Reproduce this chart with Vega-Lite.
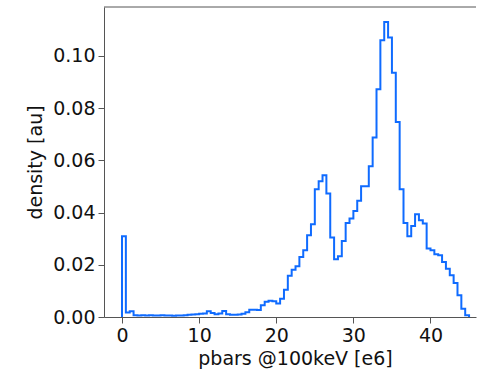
{
  "$schema": "https://vega.github.io/schema/vega-lite/v6.json",
  "width": 372,
  "height": 310,
  "autosize": "none",
  "padding": {"left": 104, "top": 7, "right": 1, "bottom": 54},
  "background": "white",
  "config": {
    "view": {"stroke": null},
    "font": "DejaVu Sans",
    "axis": {
      "grid": false,
      "domainColor": "#555555",
      "tickColor": "#555555",
      "tickSize": 6,
      "labelColor": "#111111",
      "titleColor": "#111111",
      "labelFont": "DejaVu Sans",
      "titleFont": "DejaVu Sans",
      "labelFontSize": 19,
      "titleFontSize": 19,
      "titleFontWeight": "normal",
      "labelPadding": 3
    }
  },
  "data": {
    "values": [
      {"i": 0, "x": 0, "density": 0},
      {"i": 1, "x": 0.0, "density": 0.0309},
      {"i": 2, "x": 0.5, "density": 0.0017},
      {"i": 3, "x": 1.0, "density": 0.0022},
      {"i": 4, "x": 1.5, "density": 0.0007},
      {"i": 5, "x": 2.0, "density": 0.0006},
      {"i": 6, "x": 2.5, "density": 0.0007},
      {"i": 7, "x": 3.0, "density": 0.0006},
      {"i": 8, "x": 3.5, "density": 0.0007},
      {"i": 9, "x": 4.0, "density": 0.0006},
      {"i": 10, "x": 4.5, "density": 0.0006},
      {"i": 11, "x": 5.0, "density": 0.0007},
      {"i": 12, "x": 5.5, "density": 0.0006},
      {"i": 13, "x": 6.0, "density": 0.0006},
      {"i": 14, "x": 6.5, "density": 0.0005},
      {"i": 15, "x": 7.0, "density": 0.0006},
      {"i": 16, "x": 7.5, "density": 0.0006},
      {"i": 17, "x": 8.0, "density": 0.0007},
      {"i": 18, "x": 8.5, "density": 0.0009},
      {"i": 19, "x": 9.0, "density": 0.0010},
      {"i": 20, "x": 9.5, "density": 0.0011},
      {"i": 21, "x": 10.0, "density": 0.0012},
      {"i": 22, "x": 10.5, "density": 0.0013},
      {"i": 23, "x": 11.0, "density": 0.0022},
      {"i": 24, "x": 11.5, "density": 0.0015},
      {"i": 25, "x": 12.0, "density": 0.0011},
      {"i": 26, "x": 12.5, "density": 0.0013},
      {"i": 27, "x": 13.0, "density": 0.0023},
      {"i": 28, "x": 13.5, "density": 0.0011},
      {"i": 29, "x": 14.0, "density": 0.0009},
      {"i": 30, "x": 14.5, "density": 0.0009},
      {"i": 31, "x": 15.0, "density": 0.0010},
      {"i": 32, "x": 15.5, "density": 0.0012},
      {"i": 33, "x": 16.0, "density": 0.0018},
      {"i": 34, "x": 16.5, "density": 0.0028},
      {"i": 35, "x": 17.0, "density": 0.0028},
      {"i": 36, "x": 17.5, "density": 0.0027},
      {"i": 37, "x": 18.0, "density": 0.0045},
      {"i": 38, "x": 18.5, "density": 0.0058},
      {"i": 39, "x": 19.0, "density": 0.0062},
      {"i": 40, "x": 19.5, "density": 0.0060},
      {"i": 41, "x": 20.0, "density": 0.0052},
      {"i": 42, "x": 20.5, "density": 0.0070},
      {"i": 43, "x": 21.0, "density": 0.0104},
      {"i": 44, "x": 21.5, "density": 0.0158},
      {"i": 45, "x": 22.0, "density": 0.0181},
      {"i": 46, "x": 22.5, "density": 0.0194},
      {"i": 47, "x": 23.0, "density": 0.0230},
      {"i": 48, "x": 23.5, "density": 0.0256},
      {"i": 49, "x": 24.0, "density": 0.0313},
      {"i": 50, "x": 24.5, "density": 0.0355},
      {"i": 51, "x": 25.0, "density": 0.0489},
      {"i": 52, "x": 25.5, "density": 0.0520},
      {"i": 53, "x": 26.0, "density": 0.0543},
      {"i": 54, "x": 26.5, "density": 0.0473},
      {"i": 55, "x": 27.0, "density": 0.0304},
      {"i": 56, "x": 27.5, "density": 0.0221},
      {"i": 57, "x": 28.0, "density": 0.0233},
      {"i": 58, "x": 28.5, "density": 0.0291},
      {"i": 59, "x": 29.0, "density": 0.0360},
      {"i": 60, "x": 29.5, "density": 0.0377},
      {"i": 61, "x": 30.0, "density": 0.0406},
      {"i": 62, "x": 30.5, "density": 0.0445},
      {"i": 63, "x": 31.0, "density": 0.0501},
      {"i": 64, "x": 31.5, "density": 0.0501},
      {"i": 65, "x": 32.0, "density": 0.0577},
      {"i": 66, "x": 32.5, "density": 0.0687},
      {"i": 67, "x": 33.0, "density": 0.0872},
      {"i": 68, "x": 33.5, "density": 0.1060},
      {"i": 69, "x": 34.0, "density": 0.1130},
      {"i": 70, "x": 34.5, "density": 0.1070},
      {"i": 71, "x": 35.0, "density": 0.0935},
      {"i": 72, "x": 35.5, "density": 0.0747},
      {"i": 73, "x": 36.0, "density": 0.0489},
      {"i": 74, "x": 36.5, "density": 0.0360},
      {"i": 75, "x": 37.0, "density": 0.0309},
      {"i": 76, "x": 37.5, "density": 0.0348},
      {"i": 77, "x": 38.0, "density": 0.0393},
      {"i": 78, "x": 38.5, "density": 0.0370},
      {"i": 79, "x": 39.0, "density": 0.0358},
      {"i": 80, "x": 39.5, "density": 0.0262},
      {"i": 81, "x": 40.0, "density": 0.0256},
      {"i": 82, "x": 40.5, "density": 0.0240},
      {"i": 83, "x": 41.0, "density": 0.0236},
      {"i": 84, "x": 41.5, "density": 0.0211},
      {"i": 85, "x": 42.0, "density": 0.0185},
      {"i": 86, "x": 42.5, "density": 0.0160},
      {"i": 87, "x": 43.0, "density": 0.0130},
      {"i": 88, "x": 43.5, "density": 0.0083},
      {"i": 89, "x": 44.0, "density": 0.0032},
      {"i": 90, "x": 44.5, "density": 0.0007},
      {"i": 91, "x": 45.0, "density": 0}
    ]
  },
  "layer": [
    {
      "mark": {"type": "line", "interpolate": "step-after", "color": "#0f6bff", "strokeWidth": 2, "clip": true},
      "encoding": {
        "x": {
          "field": "x",
          "type": "quantitative",
          "scale": {"domain": [-2.335, 45.9], "nice": false, "zero": false},
          "axis": {"values": [0, 10, 20, 30, 40], "title": "pbars @100keV [e6]", "titleX": 191, "titlePadding": 4}
        },
        "y": {
          "field": "density",
          "type": "quantitative",
          "scale": {"domain": [0, 0.1187], "nice": false},
          "axis": {"values": [0, 0.02, 0.04, 0.06, 0.08, 0.1], "format": ".2f", "title": "density [au]", "titlePadding": 7}
        },
        "order": {"field": "i", "type": "quantitative"}
      }
    },
    {
      "data": {"values": [{}]},
      "mark": {"type": "rule", "color": "#555555", "strokeWidth": 1},
      "encoding": {"y": {"datum": 0.1187}}
    }
  ]
}
